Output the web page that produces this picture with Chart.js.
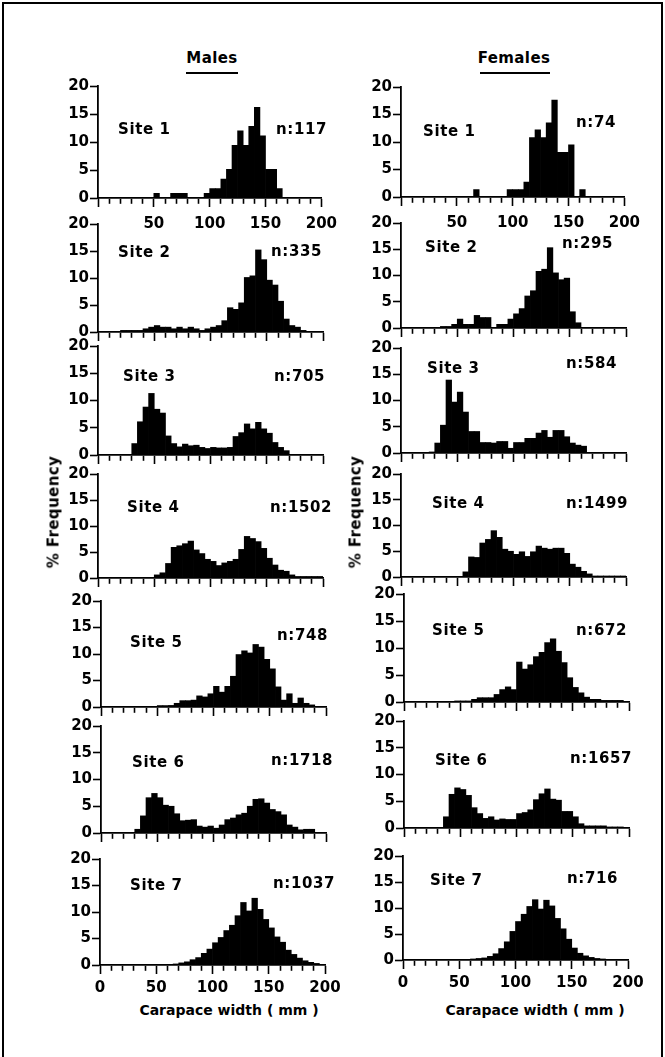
<!DOCTYPE html>
<html><head><meta charset="utf-8">
<script src="https://cdn.jsdelivr.net/npm/chart.js@4.4.1/dist/chart.umd.min.js"></script>
<style>
html,body{margin:0;padding:0;background:#fff;}
#page{position:relative;width:665px;height:1057px;overflow:hidden;font-family:"DejaVu Sans",sans-serif;font-weight:bold;color:#000;}
.frame{position:absolute;left:2px;top:2px;width:657px;height:1080px;border:2px solid #000;}
canvas{position:absolute;}
.lbl{position:absolute;font-size:15px;letter-spacing:0.6px;white-space:pre;line-height:1;transform:translateY(-50%);}
.ctr{position:absolute;font-size:15px;letter-spacing:0.4px;white-space:pre;line-height:1;transform:translate(-50%,-50%);}
.xt{position:absolute;font-size:14px;letter-spacing:0px;white-space:pre;line-height:1;transform:translate(-50%,-50%);}
.rot{position:absolute;font-size:15px;letter-spacing:0.4px;white-space:pre;line-height:1;transform:translate(-50%,-50%) rotate(-90deg);}
.uline{position:absolute;height:2px;background:#000;}
</style>
</head><body><div id="page"><div class="frame"></div></div>
<script>
// ---- data ----
const binCenters = [2.5,7.5,12.5,17.5,22.5,27.5,32.5,37.5,42.5,47.5,52.5,57.5,62.5,67.5,72.5,77.5,82.5,87.5,92.5,97.5,102.5,107.5,112.5,117.5,122.5,127.5,132.5,137.5,142.5,147.5,152.5,157.5,162.5,167.5,172.5,177.5,182.5,187.5,192.5,197.5];
const siteNames = ["Site 1","Site 2","Site 3","Site 4","Site 5","Site 6","Site 7"];
const malesN = ["n:117","n:335","n:705","n:1502","n:748","n:1718","n:1037"];
const femalesN = ["n:74","n:295","n:584","n:1499","n:672","n:1657","n:716"];
const yTicks = [0,5,10,15,20];
const xLabelValues = [0,50,100,150,200];

const males1 = [0,0,0,0,0,0,0,0,0,0, 0.85,0,0,0.85,0.85,0.85,0,0,0,0.85, 1.7,1.7,3.4,5.1,9.4,12,9.4,12.8,16.2,11.1, 5.1,5.1,1.7,0,0,0,0,0,0,0];
const females1 = [0,0,0,0,0,0,0,0,0,0, 0,0,0,1.35,0,0,0,0,0,1.35, 1.35,1.35,2.7,10.8,12.2,10.8,13.5,17.6,8.1,8.1, 9.5,0,1.35,0,0,0,0,0,0,0];
const males2 = [0,0,0,0,0.3,0.3,0.3,0.3,0.6,0.9, 1.2,0.9,0.9,0.6,0.9,0.6,0.9,0.6,0.3,0.6, 0.9,1.2,2.1,4.5,4.2,5.4,10.1,10.4,15.2,13.4, 9.6,8.7,5.7,2.4,1.2,0.9,0.3,0,0,0];
const females2 = [0,0,0,0,0,0,0,0.3,0.3,0.7, 1.7,0.7,0.7,2.4,2.0,2.0,0,0.7,0.7,1.7, 2.7,3.7,6.1,7.1,10.8,11.2,15.3,10.5,9.2,9.5, 3.1,1.0,0,0,0,0,0,0,0,0];
const males3 = [0,0,0,0,0,0,2.1,6.1,8.8,11.3, 8.4,7.7,3.5,2.1,1.5,2.0,1.7,1.8,1.4,1.2, 1.4,1.3,1.3,1.4,3.4,4.1,5.7,4.8,6.0,4.8, 4.0,2.3,1.4,0.8,0,0,0,0,0,0];
const females3 = [0,0,0.1,0.1,0.1,0.2,1.9,5.3,13.9,9.7, 11.6,7.8,4.1,4.1,2.0,2.0,1.9,2.2,2.2,0.9, 2.0,2.0,2.8,2.8,3.8,4.3,3.0,4.3,4.3,3.1, 1.9,1.5,1.3,0,0,0,0,0,0,0];
const males4 = [0,0,0,0,0,0,0,0,0,0, 0.6,1.0,2.8,5.9,6.2,6.6,7.1,5.4,4.7,3.6, 3.2,2.4,2.9,3.2,3.6,5.5,8.0,7.6,7.0,5.7, 3.8,2.5,1.5,1.3,0.6,0.3,0.3,0.3,0.3,0.3];
const females4 = [0,0,0,0,0.1,0.1,0.1,0.1,0.1,0.1, 0.1,1.0,3.9,3.8,6.6,7.3,9.0,7.7,5.4,5.0, 4.4,4.9,4.0,4.9,6.0,5.6,5.4,5.6,5.6,4.6, 2.5,1.9,1.1,0.6,0.2,0.2,0.2,0.2,0.2,0.2];
const males5 = [0,0,0,0,0,0,0,0,0,0.13, 0.27,0.27,0.3,0.7,1.2,1.2,1.3,2.1,1.9,2.5, 3.9,2.8,3.9,5.8,9.9,10.6,10.2,11.8,11.3,9.0, 7.2,3.8,1.3,2.5,0.7,1.7,0.7,0.4,0,0];
const females5 = [0,0,0,0,0,0,0,0,0.1,0.2, 0.2,0.2,0.5,0.8,0.8,0.8,1.4,2.3,2.8,2.3, 7.4,6.1,6.9,8.4,9.2,11.0,11.7,9.4,7.3,4.5, 2.7,1.7,0.9,0.5,0.5,0.3,0.3,0.3,0.3,0];
const males6 = [0,0,0,0,0,0,0.7,3.2,6.6,7.4, 6.6,5.2,5.0,3.6,2.3,2.4,2.5,1.3,1.1,1.3, 0.9,1.5,2.5,2.8,3.4,3.7,5.0,6.3,6.4,5.6, 4.4,4.0,3.4,1.5,1.1,0.6,0.7,0.7,0,0];
const females6 = [0,0,0,0,0,0,0,2.1,6.3,7.5, 7.2,6.1,3.8,2.7,1.8,2.1,1.5,1.7,1.6,1.6, 2.7,2.9,3.4,5.3,6.4,7.3,5.4,5.2,3.1,3.1, 2.1,0.8,0.4,0.4,0.4,0.4,0.2,0.2,0.2,0];
const males7 = [0,0,0,0,0,0,0,0,0,0, 0,0,0.1,0.2,0.4,0.6,1.0,1.4,2.2,3.0, 4.2,5.2,6.5,7.5,9.3,11.8,10.2,12.6,10.5,8.6, 7.0,5.3,4.3,2.8,2.0,1.3,0.8,0.5,0.3,0.1];
const females7 = [0,0,0,0,0,0,0,0,0,0, 0,0.1,0.2,0.3,0.4,0.7,1.2,2.2,3.5,5.5, 7.4,8.8,10.3,11.6,9.8,11.5,10.4,8.0,6.0,4.0, 2.3,1.3,0.8,0.5,0.3,0.2,0.1,0,0,0];

const malesSeries = [males1,males2,males3,males4,males5,males6,males7];
const femalesSeries = [females1,females2,females3,females4,females5,females6,females7];

// ---- layout (positions only) ----
const L = {
  x0: [98,98,98,98,101,101,100],
  y20: [85,223,345,473,600,725,858],
  y0: [198,332,455,578,707,833,965],
  site: [[118,129],[118,252],[123,376],[127,507],[130,642],[132,762],[130,885]],
  n: [[276,129],[271,251],[274,376],[270,507],[277,635],[271,760],[273,883]]
};
const R = {
  x0: [401,401,401,401,404,404,403],
  y20: [86,222,347,473,593,720,855],
  y0: [197,328,453,577,702,828,960],
  site: [[423,131],[425,247],[427,368],[432,503],[432,630],[435,760],[430,880]],
  n: [[576,122],[562,243],[566,363],[566,503],[576,630],[570,758],[567,878]]
};
const PLOT_W = 225, Y_AXIS_W = 42, PAD_TOP = 9, PAD_RIGHT = 22;
const FONT = {family:'"DejaVu Sans", sans-serif', size:15, weight:'bold'};

const page = document.getElementById('page');

function addDiv(cls, text, x, y){
  const d = document.createElement('div');
  d.className = cls; d.textContent = text;
  d.style.left = x + 'px'; d.style.top = y + 'px';
  page.appendChild(d); return d;
}

function makePanel(col, r, values, nText){
  const showLabels = (r === 0 || r === 6);
  const axisH = showLabels ? 36 : 12;
  const plotH = col.y0[r] - col.y20[r];
  const cv = document.createElement('canvas');
  const w = Y_AXIS_W + PLOT_W + PAD_RIGHT;
  const h = PAD_TOP + plotH + axisH;
  cv.width = w; cv.height = h;
  cv.style.width = w + 'px'; cv.style.height = h + 'px';
  cv.style.left = (col.x0[r] - Y_AXIS_W) + 'px';
  cv.style.top = (col.y20[r] - PAD_TOP) + 'px';
  page.appendChild(cv);

  const visibleX = (r === 0) ? xLabelValues.filter(v => v !== 0) : xLabelValues;

  new Chart(cv, {
    type: 'bar',
    data: { datasets: [{
      data: binCenters.map((x, i) => ({x: x, y: values[i]})),
      backgroundColor: '#000', borderWidth: 0,
      barPercentage: 1, categoryPercentage: 1
    }]},
    options: {
      responsive: false, animation: false, events: [],
      layout: {padding: {top: PAD_TOP, right: PAD_RIGHT, left: 0, bottom: 0}},
      plugins: {legend: {display: false}, tooltip: {enabled: false}, title: {display: false}},
      scales: {
        x: {
          type: 'linear', min: 0, max: 200, offset: false,
          ticks: {
            display: showLabels, stepSize: 10, autoSkip: false, maxRotation: 0,
            color: '#000', font: FONT, padding: (r === 0) ? 8 : 5,
            callback: v => visibleX.includes(v) ? String(v) : ''
          },
          grid: {
            drawOnChartArea: false, offset: false, tickLength: 9, tickWidth: 1.6, tickColor: '#000',
            tickBorderDash: c => (c.tick && c.tick.value % 50 === 0) ? [] : [5, 30]
          },
          border: {color: '#000', width: 1.8},
          afterFit: s => { s.height = axisH; }
        },
        y: {
          min: 0, max: 20,
          afterBuildTicks: s => { s.ticks = yTicks.map(v => ({value: v})); },
          ticks: {color: '#000', font: FONT, padding: 1},
          grid: {drawOnChartArea: false, tickLength: 8, tickWidth: 1.6, tickColor: '#000'},
          border: {color: '#000', width: 1.8},
          afterFit: s => { s.width = Y_AXIS_W; }
        }
      }
    }
  });

  addDiv('lbl', siteNames[r], col.site[r][0], col.site[r][1]);
  addDiv('lbl', nText, col.n[r][0], col.n[r][1]);
}

for (let r = 0; r < 7; r++) {
  makePanel(L, r, malesSeries[r], malesN[r]);
  makePanel(R, r, femalesSeries[r], femalesN[r]);
}

// titles and axis titles
addDiv('ctr', 'Males', 212, 58);
const u1 = document.createElement('div'); u1.className='uline';
u1.style.left='186px'; u1.style.top='72px'; u1.style.width='52px'; page.appendChild(u1);
addDiv('ctr', 'Females', 514, 58);
const u2 = document.createElement('div'); u2.className='uline';
u2.style.left='480px'; u2.style.top='72px'; u2.style.width='70px'; page.appendChild(u2);

addDiv('rot', '% Frequency', 54, 512);
addDiv('rot', '% Frequency', 356, 512);
addDiv('xt', 'Carapace width ( mm )', 229, 1010);
addDiv('xt', 'Carapace width ( mm )', 535, 1010);
</script>
</body></html>
